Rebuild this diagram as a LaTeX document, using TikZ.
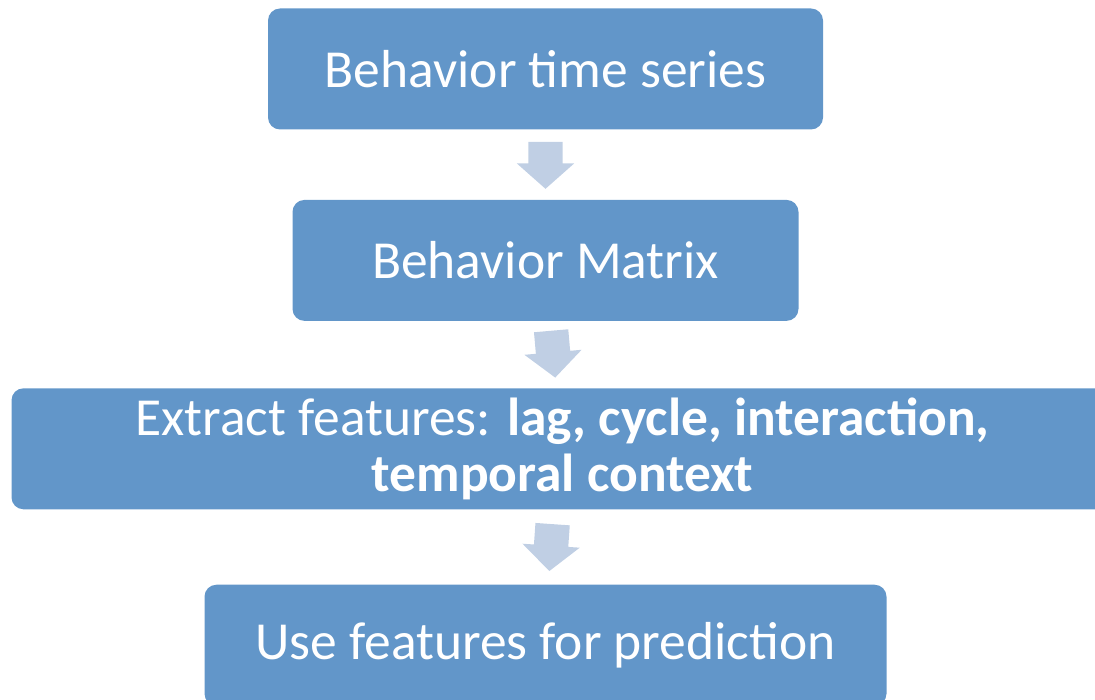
\documentclass[tikz,border=0pt]{standalone}
\usepackage{fontspec}
\setmainfont{Carlito}
\usetikzlibrary{shapes, arrows, positioning, calc}

\definecolor{boxblue}{RGB}{98,150,201}
\definecolor{arrowblue}{RGB}{192,207,228}

\begin{document}
\begin{tikzpicture}[
				x=1pt, y=-1pt,
				node distance=70pt,
				every node/.style={font=\fontsize{53.5}{56}\selectfont},
				stage/.style={rectangle, rounded corners=12pt, fill=boxblue, text=white, minimum height=121pt, align=center, inner sep=0pt},
				blockarrow/.style={single arrow, fill=arrowblue, minimum height=47pt, minimum width=57pt, single arrow head extend=11.5pt, single arrow tip angle=97, inner xsep=0pt, inner ysep=17pt}
				]
				\useasboundingbox (0,0) rectangle (1095,700);
				% Nodes
				\node (series) [stage, minimum width=555pt] at (545.5,69) {Behavior time series};
				\node (matrix) [stage, minimum width=506pt, below=70pt of series] {Behavior Matrix};
				\node (extract) [stage, minimum width=1102pt, below=67pt of matrix, xshift=17pt] {Extract features: \textbf{lag, cycle, interaction,}\\\textbf{temporal context}};
				\node (predict) [stage, minimum width=682pt, below=75pt of extract, xshift=-17pt] {Use features for prediction};
				
				% Arrows
				\node (arrA) [blockarrow, rotate=-90] at ($(series.south)!0.5!(matrix.north) + (0,-7)$) {};
				\node (arrB) [blockarrow, rotate=-85] at ($(matrix.south)!0.5!(extract.north -| matrix.south) + (7,-8)$) {};
				\node (arrC) [blockarrow, rotate=-94] at ($(extract.south -| predict.north)!0.5!(predict.north) + (6,-7)$) {};
			\end{tikzpicture}
\end{document}
